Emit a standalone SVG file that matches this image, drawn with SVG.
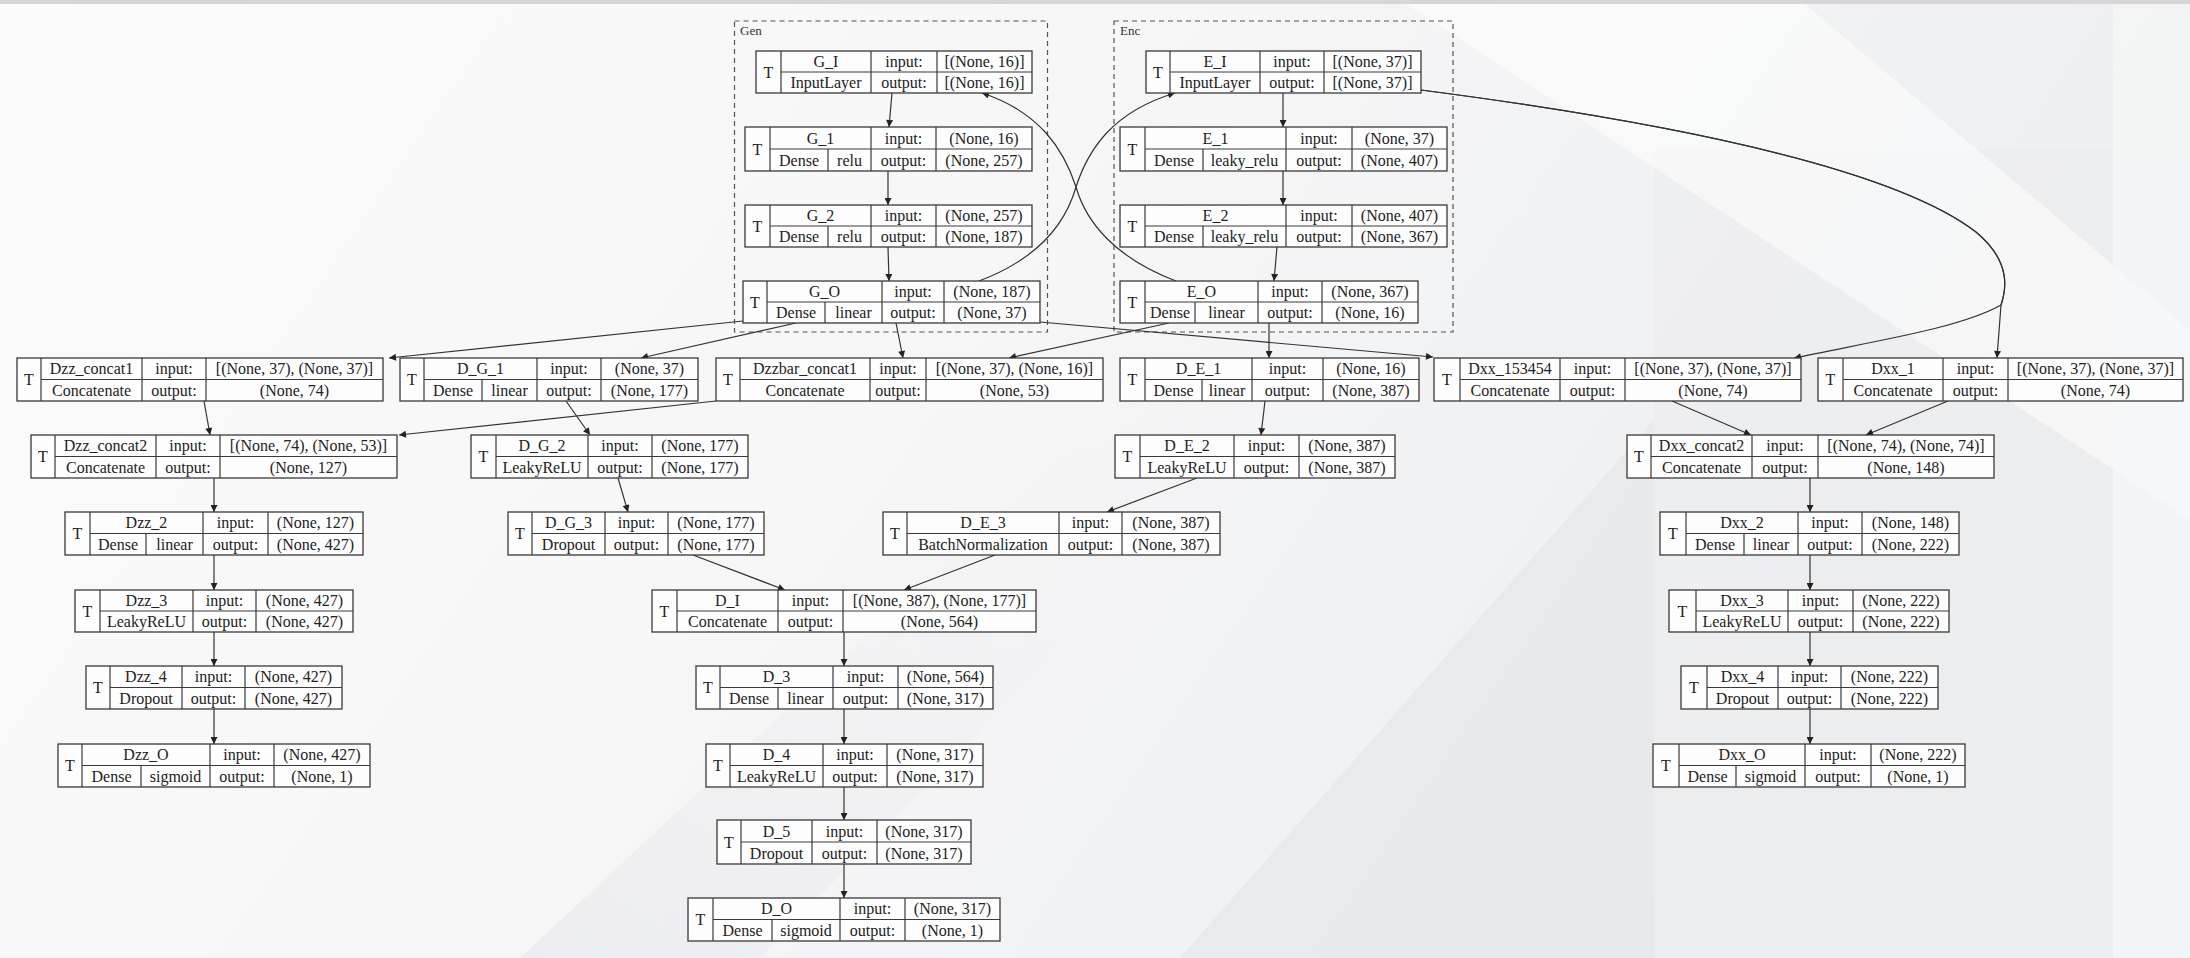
<svg xmlns="http://www.w3.org/2000/svg" width="2190" height="958" viewBox="0 0 2190 958">
<defs>
<linearGradient id="bg" x1="0" y1="0" x2="1" y2="0.3">
<stop offset="0" stop-color="#fbfbfb"/><stop offset="0.5" stop-color="#f6f6f7"/><stop offset="1" stop-color="#eceef0"/>
</linearGradient>
<linearGradient id="g1" x1="0" y1="1" x2="1" y2="0">
<stop offset="0" stop-color="#e4e5e8" stop-opacity="0.8"/><stop offset="1" stop-color="#f4f4f5" stop-opacity="0"/>
</linearGradient>
<marker id="ah" viewBox="0 0 10 10" refX="10" refY="5" markerWidth="9" markerHeight="7" markerUnits="userSpaceOnUse" orient="auto">
<path d="M0,0 L10,5 L0,10 z" fill="#222"/>
</marker>
<style>
.box{fill:#fdfdfd;stroke:#3a3a3a;stroke-width:1.3}
.dv{stroke:#3a3a3a;stroke-width:1.2}
.node text{font-family:"Liberation Serif","Times New Roman",serif;font-size:16px;fill:#222;text-anchor:middle}
.cl{fill:none;stroke:#555;stroke-width:1.2;stroke-dasharray:5,4}
.cll{font-family:"Liberation Serif",serif;font-size:13px;fill:#333}
.e{fill:none;stroke:#333;stroke-width:1.2;marker-end:url(#ah)}
</style>
</defs>
<g id="background">
<rect width="2190" height="958" fill="url(#bg)"/>
<polygon points="1654,150 2190,150 2190,958 1654,958" fill="#ebecee" opacity="0.5"/>
<polygon points="1180,958 1654,420 1654,958" fill="#e2e3e6" opacity="0.55"/>
<polygon points="520,958 1120,400 1300,400 760,958" fill="url(#g1)" opacity="0.7"/>
<polygon points="1400,0 1800,0 2190,330 2190,520" fill="#ffffff" opacity="0.5"/>
<polygon points="2113,0 2190,0 2190,958 2113,958" fill="#f7f8f9" opacity="0.6"/>
<rect x="0" y="0" width="2190" height="4" fill="#d6d6d8"/>
</g>
<g id="clusters">
<rect class="cl" x="734.5" y="21" width="313" height="311"/>
<text class="cll" x="740" y="35">Gen</text>
<rect class="cl" x="1114" y="21" width="339" height="311"/>
<text class="cll" x="1120" y="35">Enc</text>
</g>
<g id="connectors">
<path class="e" d="M892,93 L889,127"/>
<path class="e" d="M888,171 L888,205"/>
<path class="e" d="M888,247 L889,281"/>
<path class="e" d="M979,281 C1040,258 1066,222 1076,187 C1088,150 1112,112 1175,93"/>
<path class="e" d="M1176,281 C1115,258 1086,222 1076,187 C1064,150 1040,112 982,93"/>
<path class="e" d="M1283,93 L1283,127"/>
<path class="e" d="M1283,171 L1283,205"/>
<path class="e" d="M1277,247 L1274,281"/>
<path class="e" d="M743,321 L389,358"/>
<path class="e" d="M796,323 L641,358"/>
<path class="e" d="M896,323 L903,358"/>
<path class="e" d="M1169,323 L1009,358"/>
<path class="e" d="M1269,323 L1269,358"/>
<path class="e" d="M1040,322 L1433,357"/>
<path class="e" d="M1421,90 C1690,125 1895,170 1976,232 C2012,262 2006,290 2001,305 L1997,358"/>
<path class="e" d="M1421,90 C1690,125 1895,170 1976,232 C2012,262 2006,290 2001,305 C1960,328 1880,340 1794,358"/>
<path class="e" d="M204,401 L210,435"/>
<path class="e" d="M716,401 L399,435"/>
<path class="e" d="M566,401 L590,435"/>
<path class="e" d="M1265,401 L1261,435"/>
<path class="e" d="M1672,401 L1751,435"/>
<path class="e" d="M1948,401 L1866,435"/>
<path class="e" d="M214,478 L214,512"/>
<path class="e" d="M618,478 L628,512"/>
<path class="e" d="M1197,478 L1107,512"/>
<path class="e" d="M1810,478 L1810,512"/>
<path class="e" d="M214,555 L214,590"/>
<path class="e" d="M693,555 L785,590"/>
<path class="e" d="M995,555 L904,590"/>
<path class="e" d="M1810,555 L1810,590"/>
<path class="e" d="M214,632 L214,666"/>
<path class="e" d="M844,632 L844,666"/>
<path class="e" d="M1810,632 L1810,666"/>
<path class="e" d="M214,709 L214,744"/>
<path class="e" d="M844,709 L844,744"/>
<path class="e" d="M1810,709 L1810,744"/>
<path class="e" d="M844,787 L844,820"/>
<path class="e" d="M844,864 L844,898"/>
</g>

<g id="G_I" class="node">
<rect class="box" x="756" y="51" width="276" height="42"/>
<path class="dv" d="M781,51V93M781,72H1032M871,51V93M937,51V93"/>
<text x="768.5" y="77.5">T</text><text x="826" y="67">G_I</text><text x="904" y="67">input:</text><text x="984.5" y="67">[(None, 16)]</text>
<text x="826" y="88">InputLayer</text><text x="904" y="88">output:</text><text x="984.5" y="88">[(None, 16)]</text>
</g>
<g id="G_1" class="node">
<rect class="box" x="745" y="127" width="287" height="44"/>
<path class="dv" d="M770,127V171M770,149H1032M871,127V171M936,127V171M828,149V171"/>
<text x="757.5" y="154.5">T</text><text x="820.5" y="143.5">G_1</text><text x="903.5" y="143.5">input:</text><text x="984" y="143.5">(None, 16)</text>
<text x="799" y="165.5">Dense</text><text x="849.5" y="165.5">relu</text><text x="903.5" y="165.5">output:</text><text x="984" y="165.5">(None, 257)</text>
</g>
<g id="G_2" class="node">
<rect class="box" x="745" y="205" width="287" height="42"/>
<path class="dv" d="M770,205V247M770,226H1032M871,205V247M936,205V247M828,226V247"/>
<text x="757.5" y="231.5">T</text><text x="820.5" y="221">G_2</text><text x="903.5" y="221">input:</text><text x="984" y="221">(None, 257)</text>
<text x="799" y="242">Dense</text><text x="849.5" y="242">relu</text><text x="903.5" y="242">output:</text><text x="984" y="242">(None, 187)</text>
</g>
<g id="G_O" class="node">
<rect class="box" x="743" y="281" width="297" height="42"/>
<path class="dv" d="M767,281V323M767,302H1040M882,281V323M944,281V323M825,302V323"/>
<text x="755" y="307.5">T</text><text x="824.5" y="297">G_O</text><text x="913" y="297">input:</text><text x="992" y="297">(None, 187)</text>
<text x="796" y="318">Dense</text><text x="853.5" y="318">linear</text><text x="913" y="318">output:</text><text x="992" y="318">(None, 37)</text>
</g>
<g id="E_I" class="node">
<rect class="box" x="1146" y="51" width="275" height="42"/>
<path class="dv" d="M1170,51V93M1170,72H1421M1260,51V93M1324,51V93"/>
<text x="1158" y="77.5">T</text><text x="1215" y="67">E_I</text><text x="1292" y="67">input:</text><text x="1372.5" y="67">[(None, 37)]</text>
<text x="1215" y="88">InputLayer</text><text x="1292" y="88">output:</text><text x="1372.5" y="88">[(None, 37)]</text>
</g>
<g id="E_1" class="node">
<rect class="box" x="1120" y="127" width="327" height="44"/>
<path class="dv" d="M1145,127V171M1145,149H1447M1286,127V171M1352,127V171M1203,149V171"/>
<text x="1132.5" y="154.5">T</text><text x="1215.5" y="143.5">E_1</text><text x="1319" y="143.5">input:</text><text x="1399.5" y="143.5">(None, 37)</text>
<text x="1174" y="165.5">Dense</text><text x="1244.5" y="165.5">leaky_relu</text><text x="1319" y="165.5">output:</text><text x="1399.5" y="165.5">(None, 407)</text>
</g>
<g id="E_2" class="node">
<rect class="box" x="1120" y="205" width="327" height="42"/>
<path class="dv" d="M1145,205V247M1145,226H1447M1286,205V247M1352,205V247M1203,226V247"/>
<text x="1132.5" y="231.5">T</text><text x="1215.5" y="221">E_2</text><text x="1319" y="221">input:</text><text x="1399.5" y="221">(None, 407)</text>
<text x="1174" y="242">Dense</text><text x="1244.5" y="242">leaky_relu</text><text x="1319" y="242">output:</text><text x="1399.5" y="242">(None, 367)</text>
</g>
<g id="E_O" class="node">
<rect class="box" x="1120" y="281" width="298" height="42"/>
<path class="dv" d="M1145,281V323M1145,302H1418M1258,281V323M1322,281V323M1195,302V323"/>
<text x="1132.5" y="307.5">T</text><text x="1201.5" y="297">E_O</text><text x="1290" y="297">input:</text><text x="1370" y="297">(None, 367)</text>
<text x="1170" y="318">Dense</text><text x="1226.5" y="318">linear</text><text x="1290" y="318">output:</text><text x="1370" y="318">(None, 16)</text>
</g>

<g id="Dzz_concat1" class="node">
<rect class="box" x="17" y="358" width="366" height="43"/>
<path class="dv" d="M41,358V401M41,379.5H383M142,358V401M206,358V401"/>
<text x="29" y="385">T</text><text x="91.5" y="374">Dzz_concat1</text><text x="174" y="374">input:</text><text x="294.5" y="374">[(None, 37), (None, 37)]</text>
<text x="91.5" y="395.5">Concatenate</text><text x="174" y="395.5">output:</text><text x="294.5" y="395.5">(None, 74)</text>
</g>
<g id="D_G_1" class="node">
<rect class="box" x="400" y="358" width="298" height="43"/>
<path class="dv" d="M424,358V401M424,379.5H698M537,358V401M601,358V401M482,379.5V401"/>
<text x="412" y="385">T</text><text x="480.5" y="374">D_G_1</text><text x="569" y="374">input:</text><text x="649.5" y="374">(None, 37)</text>
<text x="453" y="395.5">Dense</text><text x="509.5" y="395.5">linear</text><text x="569" y="395.5">output:</text><text x="649.5" y="395.5">(None, 177)</text>
</g>
<g id="Dzzbar_concat1" class="node">
<rect class="box" x="716" y="358" width="387" height="43"/>
<path class="dv" d="M740,358V401M740,379.5H1103M870,358V401M926,358V401"/>
<text x="728" y="385">T</text><text x="805" y="374">Dzzbar_concat1</text><text x="898" y="374">input:</text><text x="1014.5" y="374">[(None, 37), (None, 16)]</text>
<text x="805" y="395.5">Concatenate</text><text x="898" y="395.5">output:</text><text x="1014.5" y="395.5">(None, 53)</text>
</g>
<g id="D_E_1" class="node">
<rect class="box" x="1120" y="358" width="299" height="43"/>
<path class="dv" d="M1145,358V401M1145,379.5H1419M1252,358V401M1323,358V401M1202,379.5V401"/>
<text x="1132.5" y="385">T</text><text x="1198.5" y="374">D_E_1</text><text x="1287.5" y="374">input:</text><text x="1371" y="374">(None, 16)</text>
<text x="1173.5" y="395.5">Dense</text><text x="1227" y="395.5">linear</text><text x="1287.5" y="395.5">output:</text><text x="1371" y="395.5">(None, 387)</text>
</g>
<g id="Dxx_153454" class="node">
<rect class="box" x="1434" y="358" width="367" height="43"/>
<path class="dv" d="M1460,358V401M1460,379.5H1801M1560,358V401M1625,358V401"/>
<text x="1447" y="385">T</text><text x="1510" y="374">Dxx_153454</text><text x="1592.5" y="374">input:</text><text x="1713" y="374">[(None, 37), (None, 37)]</text>
<text x="1510" y="395.5">Concatenate</text><text x="1592.5" y="395.5">output:</text><text x="1713" y="395.5">(None, 74)</text>
</g>
<g id="Dxx_1" class="node">
<rect class="box" x="1818" y="358" width="365" height="43"/>
<path class="dv" d="M1843,358V401M1843,379.5H2183M1943,358V401M2008,358V401"/>
<text x="1830.5" y="385">T</text><text x="1893" y="374">Dxx_1</text><text x="1975.5" y="374">input:</text><text x="2095.5" y="374">[(None, 37), (None, 37)]</text>
<text x="1893" y="395.5">Concatenate</text><text x="1975.5" y="395.5">output:</text><text x="2095.5" y="395.5">(None, 74)</text>
</g>

<g id="Dzz_concat2" class="node">
<rect class="box" x="31" y="435" width="366" height="43"/>
<path class="dv" d="M55,435V478M55,456.5H397M156,435V478M220,435V478"/>
<text x="43" y="462">T</text><text x="105.5" y="451">Dzz_concat2</text><text x="188" y="451">input:</text><text x="308.5" y="451">[(None, 74), (None, 53)]</text>
<text x="105.5" y="472.5">Concatenate</text><text x="188" y="472.5">output:</text><text x="308.5" y="472.5">(None, 127)</text>
</g>
<g id="D_G_2" class="node">
<rect class="box" x="471" y="435" width="277" height="43"/>
<path class="dv" d="M496,435V478M496,456.5H748M588,435V478M652,435V478"/>
<text x="483.5" y="462">T</text><text x="542" y="451">D_G_2</text><text x="620" y="451">input:</text><text x="700" y="451">(None, 177)</text>
<text x="542" y="472.5">LeakyReLU</text><text x="620" y="472.5">output:</text><text x="700" y="472.5">(None, 177)</text>
</g>
<g id="D_E_2" class="node">
<rect class="box" x="1115" y="435" width="280" height="43"/>
<path class="dv" d="M1140,435V478M1140,456.5H1395M1234,435V478M1299,435V478"/>
<text x="1127.5" y="462">T</text><text x="1187" y="451">D_E_2</text><text x="1266.5" y="451">input:</text><text x="1347" y="451">(None, 387)</text>
<text x="1187" y="472.5">LeakyReLU</text><text x="1266.5" y="472.5">output:</text><text x="1347" y="472.5">(None, 387)</text>
</g>
<g id="Dxx_concat2" class="node">
<rect class="box" x="1627" y="435" width="367" height="43"/>
<path class="dv" d="M1651,435V478M1651,456.5H1994M1752,435V478M1818,435V478"/>
<text x="1639" y="462">T</text><text x="1701.5" y="451">Dxx_concat2</text><text x="1785" y="451">input:</text><text x="1906" y="451">[(None, 74), (None, 74)]</text>
<text x="1701.5" y="472.5">Concatenate</text><text x="1785" y="472.5">output:</text><text x="1906" y="472.5">(None, 148)</text>
</g>

<g id="Dzz_2" class="node">
<rect class="box" x="65" y="512" width="298" height="43"/>
<path class="dv" d="M90,512V555M90,533.5H363M203,512V555M268,512V555M146,533.5V555"/>
<text x="77.5" y="539">T</text><text x="146.5" y="528">Dzz_2</text><text x="235.5" y="528">input:</text><text x="315.5" y="528">(None, 127)</text>
<text x="118" y="549.5">Dense</text><text x="174.5" y="549.5">linear</text><text x="235.5" y="549.5">output:</text><text x="315.5" y="549.5">(None, 427)</text>
</g>
<g id="D_G_3" class="node">
<rect class="box" x="508" y="512" width="256" height="43"/>
<path class="dv" d="M532,512V555M532,533.5H764M605,512V555M668,512V555"/>
<text x="520" y="539">T</text><text x="568.5" y="528">D_G_3</text><text x="636.5" y="528">input:</text><text x="716" y="528">(None, 177)</text>
<text x="568.5" y="549.5">Dropout</text><text x="636.5" y="549.5">output:</text><text x="716" y="549.5">(None, 177)</text>
</g>
<g id="D_E_3" class="node">
<rect class="box" x="883" y="512" width="337" height="43"/>
<path class="dv" d="M907,512V555M907,533.5H1220M1059,512V555M1122,512V555"/>
<text x="895" y="539">T</text><text x="983" y="528">D_E_3</text><text x="1090.5" y="528">input:</text><text x="1171" y="528">(None, 387)</text>
<text x="983" y="549.5">BatchNormalization</text><text x="1090.5" y="549.5">output:</text><text x="1171" y="549.5">(None, 387)</text>
</g>
<g id="Dxx_2" class="node">
<rect class="box" x="1660" y="512" width="299" height="43"/>
<path class="dv" d="M1686,512V555M1686,533.5H1959M1798,512V555M1862,512V555M1744,533.5V555"/>
<text x="1673" y="539">T</text><text x="1742" y="528">Dxx_2</text><text x="1830" y="528">input:</text><text x="1910.5" y="528">(None, 148)</text>
<text x="1715" y="549.5">Dense</text><text x="1771" y="549.5">linear</text><text x="1830" y="549.5">output:</text><text x="1910.5" y="549.5">(None, 222)</text>
</g>

<g id="Dzz_3" class="node">
<rect class="box" x="75" y="590" width="278" height="42"/>
<path class="dv" d="M100,590V632M100,611H353M193,590V632M256,590V632"/>
<text x="87.5" y="616.5">T</text><text x="146.5" y="606">Dzz_3</text><text x="224.5" y="606">input:</text><text x="304.5" y="606">(None, 427)</text>
<text x="146.5" y="627">LeakyReLU</text><text x="224.5" y="627">output:</text><text x="304.5" y="627">(None, 427)</text>
</g>
<g id="D_I" class="node">
<rect class="box" x="652" y="590" width="384" height="42"/>
<path class="dv" d="M677,590V632M677,611H1036M778,590V632M843,590V632"/>
<text x="664.5" y="616.5">T</text><text x="727.5" y="606">D_I</text><text x="810.5" y="606">input:</text><text x="939.5" y="606">[(None, 387), (None, 177)]</text>
<text x="727.5" y="627">Concatenate</text><text x="810.5" y="627">output:</text><text x="939.5" y="627">(None, 564)</text>
</g>
<g id="Dxx_3" class="node">
<rect class="box" x="1669" y="590" width="280" height="42"/>
<path class="dv" d="M1696,590V632M1696,611H1949M1788,590V632M1853,590V632"/>
<text x="1682.5" y="616.5">T</text><text x="1742" y="606">Dxx_3</text><text x="1820.5" y="606">input:</text><text x="1901" y="606">(None, 222)</text>
<text x="1742" y="627">LeakyReLU</text><text x="1820.5" y="627">output:</text><text x="1901" y="627">(None, 222)</text>
</g>

<g id="Dzz_4" class="node">
<rect class="box" x="86" y="666" width="256" height="43"/>
<path class="dv" d="M110,666V709M110,687.5H342M182,666V709M245,666V709"/>
<text x="98" y="693">T</text><text x="146" y="682">Dzz_4</text><text x="213.5" y="682">input:</text><text x="293.5" y="682">(None, 427)</text>
<text x="146" y="703.5">Dropout</text><text x="213.5" y="703.5">output:</text><text x="293.5" y="703.5">(None, 427)</text>
</g>
<g id="D_3" class="node">
<rect class="box" x="696" y="666" width="297" height="43"/>
<path class="dv" d="M720,666V709M720,687.5H993M833,666V709M898,666V709M778,687.5V709"/>
<text x="708" y="693">T</text><text x="776.5" y="682">D_3</text><text x="865.5" y="682">input:</text><text x="945.5" y="682">(None, 564)</text>
<text x="749" y="703.5">Dense</text><text x="805.5" y="703.5">linear</text><text x="865.5" y="703.5">output:</text><text x="945.5" y="703.5">(None, 317)</text>
</g>
<g id="Dxx_4" class="node">
<rect class="box" x="1681" y="666" width="257" height="43"/>
<path class="dv" d="M1707,666V709M1707,687.5H1938M1778,666V709M1841,666V709"/>
<text x="1694" y="693">T</text><text x="1742.5" y="682">Dxx_4</text><text x="1809.5" y="682">input:</text><text x="1889.5" y="682">(None, 222)</text>
<text x="1742.5" y="703.5">Dropout</text><text x="1809.5" y="703.5">output:</text><text x="1889.5" y="703.5">(None, 222)</text>
</g>

<g id="Dzz_O" class="node">
<rect class="box" x="58" y="744" width="312" height="43"/>
<path class="dv" d="M82,744V787M82,765.5H370M210,744V787M274,744V787M141,765.5V787"/>
<text x="70" y="771">T</text><text x="146" y="760">Dzz_O</text><text x="242" y="760">input:</text><text x="322" y="760">(None, 427)</text>
<text x="111.5" y="781.5">Dense</text><text x="175.5" y="781.5">sigmoid</text><text x="242" y="781.5">output:</text><text x="322" y="781.5">(None, 1)</text>
</g>
<g id="D_4" class="node">
<rect class="box" x="706" y="744" width="277" height="43"/>
<path class="dv" d="M730,744V787M730,765.5H983M823,744V787M887,744V787"/>
<text x="718" y="771">T</text><text x="776.5" y="760">D_4</text><text x="855" y="760">input:</text><text x="935" y="760">(None, 317)</text>
<text x="776.5" y="781.5">LeakyReLU</text><text x="855" y="781.5">output:</text><text x="935" y="781.5">(None, 317)</text>
</g>
<g id="Dxx_O" class="node">
<rect class="box" x="1653" y="744" width="312" height="43"/>
<path class="dv" d="M1679,744V787M1679,765.5H1965M1805,744V787M1871,744V787M1736,765.5V787"/>
<text x="1666" y="771">T</text><text x="1742" y="760">Dxx_O</text><text x="1838" y="760">input:</text><text x="1918" y="760">(None, 222)</text>
<text x="1707.5" y="781.5">Dense</text><text x="1770.5" y="781.5">sigmoid</text><text x="1838" y="781.5">output:</text><text x="1918" y="781.5">(None, 1)</text>
</g>

<g id="D_5" class="node">
<rect class="box" x="717" y="820" width="254" height="44"/>
<path class="dv" d="M741,820V864M741,842H971M812,820V864M877,820V864"/>
<text x="729" y="847.5">T</text><text x="776.5" y="836.5">D_5</text><text x="844.5" y="836.5">input:</text><text x="924" y="836.5">(None, 317)</text>
<text x="776.5" y="858.5">Dropout</text><text x="844.5" y="858.5">output:</text><text x="924" y="858.5">(None, 317)</text>
</g>
<g id="D_O" class="node">
<rect class="box" x="688" y="898" width="312" height="43"/>
<path class="dv" d="M713,898V941M713,919.5H1000M840,898V941M905,898V941M772,919.5V941"/>
<text x="700.5" y="925">T</text><text x="776.5" y="914">D_O</text><text x="872.5" y="914">input:</text><text x="952.5" y="914">(None, 317)</text>
<text x="742.5" y="935.5">Dense</text><text x="806" y="935.5">sigmoid</text><text x="872.5" y="935.5">output:</text><text x="952.5" y="935.5">(None, 1)</text>
</g>
</svg>
